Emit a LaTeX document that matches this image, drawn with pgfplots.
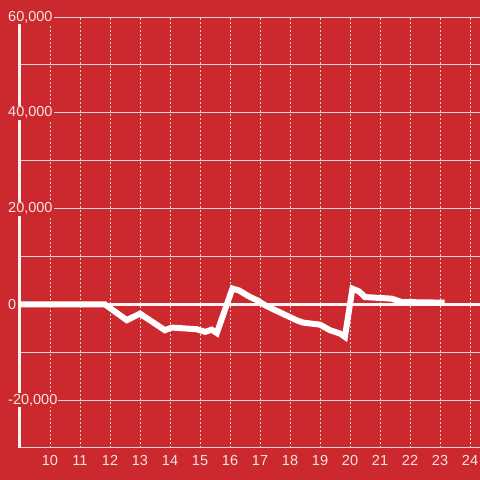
\documentclass[border=0pt]{standalone}
\usepackage{fontspec}
\setmainfont{Liberation Sans}
\usepackage{pgfplots}
\pgfplotsset{compat=1.18}
\definecolor{bg}{RGB}{204,41,46}
\definecolor{lbl}{RGB}{245,228,228}
\definecolor{gridc}{RGB}{220,215,215}
\begin{document}
\begin{tikzpicture}[x=1pt,y=1pt]
\path[use as bounding box, fill=bg] (0,0) rectangle (480,480);
\begin{axis}[
  at={(20pt,32pt)}, anchor=south west,
  scale only axis, width=460pt, height=431pt,
  xmin=9, xmax=24.333, ymin=-30000, ymax=60000,
  axis lines=left,
  axis line style={-},
  x axis line style={gridc, line width=1pt},
  y axis line style={white!95!red, line width=3pt},
  xtick={10,...,24},
  ytick={-20000,0,20000,40000,60000},
  minor ytick={-10000,10000,30000,50000},
  major tick length=0pt, minor tick length=0pt,
  xmajorgrids, ymajorgrids, yminorgrids,
  major x grid style={gridc, dash pattern=on 2pt off 2pt, line width=1pt},
  major y grid style={gridc, line width=0.8pt},
  minor y grid style={gridc, line width=0.8pt},
  scaled y ticks=false,
  /pgf/number format/1000 sep={,},
  /pgf/number format/assume math mode=true,
  tick label style={font=\fontsize{14.5}{16}\selectfont, text=lbl},
  yticklabel style={anchor=west, xshift=-13pt, fill=bg, inner sep=1pt},
  xticklabel style={yshift=-4pt},
  clip=false,
]
\addplot[white!95!red, line width=3pt] coordinates {(9,0) (24.333,0)};
\addplot[white, line width=6pt, line join=miter] coordinates {
(9,0) (11.83,0) (12.56,-3300) (13.0,-1950) (13.83,-5400) (14.06,-4850)
(14.89,-5200) (15.17,-5750) (15.39,-5300) (15.56,-6000) (16.08,3300)
(16.3,2900) (16.67,1520) (16.89,900) (17.2,-300) (18.22,-3330) (18.44,-3820) (19.0,-4240)
(19.33,-5400) (19.67,-6100) (19.83,-6800) (20.08,3270) (20.3,2700) (20.5,1520)
(21.39,1180) (21.72,480) (23.15,350)
};
\end{axis}
\end{tikzpicture}
\end{document}
